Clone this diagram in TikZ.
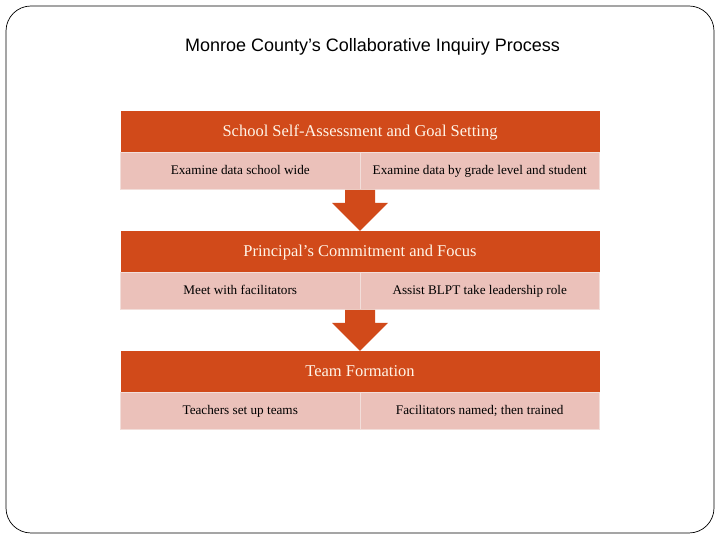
\documentclass[tikz,border=0pt]{standalone}
\usepackage{fontspec}
\setmainfont{Liberation Serif}
\newfontfamily\titlefont{Liberation Sans}
\usepackage{tikz}
\usetikzlibrary{positioning,calc}
\definecolor{headorange}{RGB}{209,74,26}
\definecolor{headtext}{RGB}{255,245,232}
\definecolor{cellpink}{RGB}{235,193,186}
\definecolor{celledge}{RGB}{242,222,218}

\begin{document}
\begin{tikzpicture}[x=1pt,y=1pt,
  head/.style={fill=headorange,text=headtext,minimum width=479pt,minimum height=41pt,inner sep=0pt,outer sep=0pt,text height=14pt,text depth=3.6pt,font=\fontsize{16.5}{19}\selectfont},
  cell/.style={fill=cellpink,draw=celledge,line width=0.6pt,minimum width=239.5pt,minimum height=37pt,inner sep=0pt,outer sep=0pt,text height=12pt,text depth=3pt,font=\fontsize{13.2}{15}\selectfont},
  arrfill/.style={fill=headorange}]
\useasboundingbox (0,0) rectangle (720,540);
\draw[line width=0.7pt,rounded corners=25pt] (6,7) rectangle (714,534);
\node[font=\titlefont\fontsize{18}{21}\selectfont] (title) at (372.5,493) {Monroe County’s Collaborative Inquiry Process};
% first block
\node[head] (h1) at (360,408.5) {School Self-Assessment and Goal Setting};
\node[cell,anchor=north east] (c1a) at (h1.south) {Examine data school wide};
\node[cell,anchor=north west] (c1b) at (h1.south) {Examine data by grade level and student};
% second block
\node[head,below=42pt of c1a.south east] (h2) {Principal’s Commitment and Focus};
\node[cell,anchor=north east] (c2a) at (h2.south) {Meet with facilitators};
\node[cell,anchor=north west] (c2b) at (h2.south) {Assist BLPT take leadership role};
% third block
\node[head,below=42pt of c2a.south east] (h3) {Team Formation};
\node[cell,anchor=north east] (c3a) at (h3.south) {Teachers set up teams};
\node[cell,anchor=north west] (c3b) at (h3.south) {Facilitators named; then trained};
% block arrows
\fill[arrfill] ($(c1a.south east)+(-15,-1)$) -- ($(c1a.south east)+(15,-1)$) -- ($(c1a.south east)+(15,-14)$)
  -- ($(c1a.south east)+(28,-14)$) -- (h2.north) -- ($(c1a.south east)+(-28,-14)$) -- ($(c1a.south east)+(-15,-14)$) -- cycle;
\fill[arrfill] ($(c2a.south east)+(-15,-1)$) -- ($(c2a.south east)+(15,-1)$) -- ($(c2a.south east)+(15,-14)$)
  -- ($(c2a.south east)+(28,-14)$) -- (h3.north) -- ($(c2a.south east)+(-28,-14)$) -- ($(c2a.south east)+(-15,-14)$) -- cycle;
\end{tikzpicture}
\end{document}
